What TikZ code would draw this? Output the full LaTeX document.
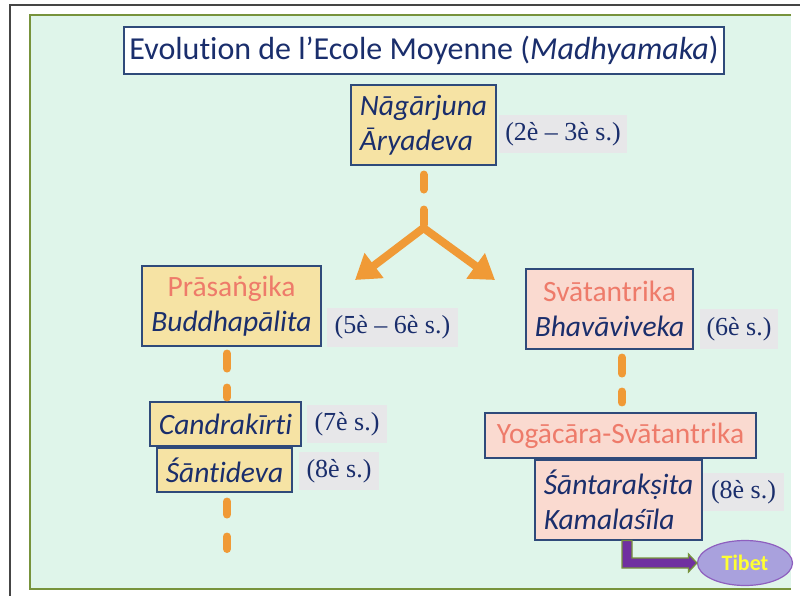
\documentclass[tikz,border=0pt]{standalone}
\usepackage{fontspec}
\setmainfont{Carlito}[Ligatures=NoCommon]
\newfontfamily\tnr{Liberation Serif}
\usetikzlibrary{arrows.meta,shapes.geometric,calc}
\definecolor{navy}{HTML}{1A2E6C}
\definecolor{boxline}{HTML}{2F4A7A}
\definecolor{yellowfill}{HTML}{F6E3A4}
\definecolor{pinkfill}{HTML}{FADAD0}
\definecolor{salmon}{HTML}{EE7B6A}
\definecolor{dategray}{HTML}{E7E7E9}
\definecolor{panelgreen}{HTML}{DFF5EA}
\definecolor{panelline}{HTML}{77933C}
\definecolor{framegray}{HTML}{454545}
\definecolor{orangeline}{HTML}{F09A36}
\definecolor{purplearrow}{HTML}{7030A0}
\definecolor{tibetfill}{HTML}{A9A1DD}
\definecolor{tibetline}{HTML}{8E5FBF}
\definecolor{tibettext}{HTML}{FFFF33}
\begin{document}
\begin{tikzpicture}[x=1pt,y=-1pt,
  namebox/.style={draw=boxline,line width=1.1pt,inner sep=0pt,text=navy,
    font=\fontsize{29.5}{35}\selectfont},
  yelbox/.style={namebox,fill=yellowfill},
  pinkbox/.style={namebox,fill=pinkfill},
  datebox/.style={fill=dategray,inner sep=0pt,text=navy,
    font=\tnr\fontsize{26}{30}\selectfont},
  odash/.style={draw=orangeline,line width=8pt,line cap=round},
  oarrow/.style={draw=orangeline,line width=8pt,
    -{Triangle[length=24pt,width=30pt]}},
]
\useasboundingbox (0,0) rectangle (800,596);
% frame and panel
\fill[panelgreen] (30,15) rectangle (791,589);
\draw[panelline,line width=1.5pt] (791,15) -- (30,15) -- (30,589) -- (791,589);
\draw[framegray,line width=2pt] (800,5) -- (10,5) -- (10,596);
% title
\node[draw=boxline,line width=1.1pt,fill=white,minimum width=600pt,minimum height=47pt,
  inner sep=0pt,text=navy,font=\fontsize{32}{36}\selectfont] (title) at (424,50.5)
  {Evolution de l’Ecole Moyenne (\textit{Madhyamaka})};
% nodes
\node[yelbox,minimum width=145pt,minimum height=80pt,align=left] (naga) at (423.5,125)
  {\itshape Nāgārjuna\\\itshape Āryadeva};
\node[datebox,minimum width=128pt,minimum height=38pt] (d1) at (563,134) {(2è – 3è s.)};
\node[yelbox,minimum width=179pt,minimum height=80pt,align=center] (pras) at (231.5,306)
  {\textcolor{salmon}{Prāsaṅgika}\\\itshape Buddhapālita};
\node[datebox,minimum width=131pt,minimum height=39pt] (d2) at (392.5,327.5) {(5è – 6è s.)};
\node[pinkbox,minimum width=167pt,minimum height=80pt,align=center] (svat) at (609.5,309)
  {\textcolor{salmon}{Svātantrika}\\\itshape Bhavāviveka};
\node[datebox,minimum width=78pt,minimum height=40pt] (d3) at (739,329) {(6è s.)};
\node[yelbox,minimum width=151pt,minimum height=44pt] (cand) at (225.5,424)
  {\itshape Candrakīrti};
\node[datebox,minimum width=80pt,minimum height=38pt] (d4) at (347,424) {(7è s.)};
\node[yelbox,minimum width=135pt,minimum height=44pt] (shan) at (224.5,470)
  {\itshape Śāntideva};
\node[datebox,minimum width=80pt,minimum height=38pt] (d5) at (339,471) {(8è s.)};
\node[pinkbox,minimum width=271pt,minimum height=45pt,text=salmon] (yoga) at (620.5,435.5)
  {Yogācāra-Svātantrika};
\node[pinkbox,minimum width=167pt,minimum height=80pt,align=left] (shtk) at (618.5,500)
  {\itshape Śāntarakṣita\\\itshape Kamalaśīla};
\node[datebox,minimum width=81pt,minimum height=38pt] (d6) at (743.5,492) {(8è s.)};
\node[ellipse,draw=tibetline,line width=1.2pt,fill=tibetfill,minimum width=95pt,
  minimum height=45pt,inner sep=0pt,text=tibettext,font=\bfseries\fontsize{22}{26}\selectfont]
  (tibet) at (745,563) {Tibet};
% coordinates
\coordinate (j) at (423.5,228);
\coordinate (la) at (355,280);
\coordinate (ra) at (495,280);
\coordinate (send) at (227,549);
% orange connectors
\draw[odash,dash pattern=on 15pt off 20pt,shorten <=9pt] (naga.south) -- (j);
\draw[oarrow] (j) -- (la);
\draw[oarrow] (j) -- (ra);
\draw[odash,dash pattern=on 15pt off 19pt,shorten <=7pt,shorten >=4pt]
  ([xshift=-4.5pt]pras.south) -- ([xshift=1.5pt]cand.north);
\draw[odash,dash pattern=on 13pt off 22pt,shorten <=9pt]
  ([xshift=2.5pt]shan.south) -- (send);
\draw[odash,dash pattern=on 16pt off 18pt,shorten <=8pt,shorten >=10pt]
  ([xshift=12.5pt]svat.south) -- ([xshift=1.5pt]yoga.north);
% purple block arrow
\filldraw[fill=purplearrow,draw=panelline,line width=1.3pt,line join=miter]
  ($(shtk.south)+(3.5,0)$) |- ($(tibet.west)+(-8.5,5)$) -- ++(0,4) -- (tibet.west)
  -- ($(tibet.west)+(-8.5,-9)$) -- ++(0,4) -| ($(shtk.south)+(13.5,0)$) -- cycle;
\end{tikzpicture}
\end{document}
